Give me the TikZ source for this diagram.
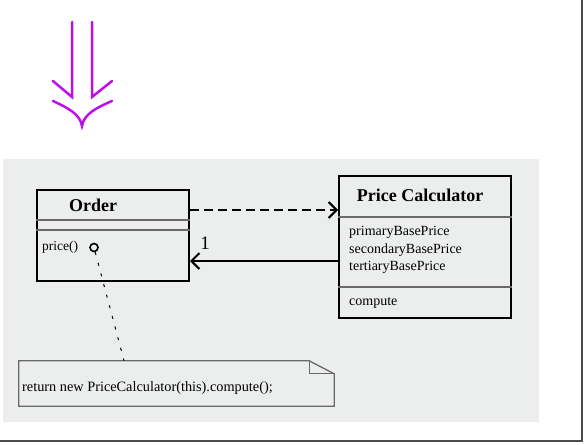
\documentclass[tikz,border=0pt]{standalone}
\usepackage{fontspec}
\setmainfont{Liberation Serif}
\usepackage{tikz}
\usetikzlibrary{arrows.meta}

\definecolor{panelgray}{RGB}{236,237,237}
\definecolor{implypurple}{RGB}{188,16,232}
\definecolor{rulegray}{RGB}{105,105,105}

\tikzset{
  classbox/.style = {draw, line width=2pt, fill=panelgray, inner sep=0pt},
  classname/.style = {font=\fontsize{18}{22}\selectfont\bfseries},
  member/.style = {font=\fontsize{14}{17.5}\selectfont, align=left, anchor=west, inner sep=0pt},
  sepline/.style = {rulegray, line width=1.3pt},
  openhead/.style = {-{Straight Barb[length=8pt,width=16pt,line width=2pt]}}
}

\begin{document}
\begin{tikzpicture}[x=1pt,y=-1pt]
\useasboundingbox (0,0) rectangle (585,444);
\draw [line width=2pt, black!70] (582,0) -- (582,441) -- (0,441);
\fill [panelgray] (3,159) rectangle (539,422);

% refactoring arrow
\draw [implypurple, line width=2.5pt, line cap=round] (72,22) -- (72,97) -- (53,81);
\draw [implypurple, line width=2.5pt, line cap=round] (92,22) -- (92,97) -- (112,81);
\draw [implypurple, line width=2.5pt, line cap=round]
  (53,101) .. controls (68,108) and (80,114) .. (82,126)
  .. controls (84,114) and (96,108) .. (112,101);

% Order
\node [classbox, minimum width=152pt, minimum height=91pt] (order) at (113,235.5) {};
\node [classname] (ordername) at (93,205) {Order};
\draw [sepline] ([yshift=15.5pt]order.west) -- ([yshift=15.5pt]order.east);
\draw [sepline] ([yshift=5.5pt]order.west) -- ([yshift=5.5pt]order.east);
\node [member, font=\fontsize{13.5}{16}\selectfont] (price) at (42,247) {price()};
\node [circle, draw, line width=1.6pt, inner sep=0pt, minimum size=8pt] (hook) at (94,247.5) {};

% Price Calculator
\node [classbox, minimum width=172pt, minimum height=142pt] (calc) at (425,247) {};
\node [classname] (calcname) at (420,195) {Price Calculator};
\draw [sepline] ([yshift=30pt]calc.west) -- ([yshift=30pt]calc.east);
\draw [sepline] ([yshift=-40pt]calc.west) -- ([yshift=-40pt]calc.east);
\node [member] (fields) at (349,250) {primaryBasePrice\\secondaryBasePrice\\tertiaryBasePrice};
\node [member] (compute) at (349,303) {compute};

% associations
\draw [openhead, line width=2pt, dash pattern=on 9pt off 5pt]
  ([yshift=25.5pt]order.east) -- ([yshift=37pt]calc.west);
\draw [openhead, line width=2pt] ([yshift=-14pt]calc.west) -- ([yshift=-25.5pt]order.east);
\node [font=\fontsize{19}{22}\selectfont] (mult) at (205,243) {1};

% note
\node [minimum width=315pt, minimum height=45pt, inner sep=0pt] (note) at (176.5,383.5) {};
\draw [rulegray, line width=1.3pt, fill=panelgray] (note.south west) -- (note.north west)
  -- ([xshift=-25pt]note.north east) -- ([yshift=-13pt]note.north east)
  -- (note.south east) -- cycle;
\draw [rulegray, line width=1.3pt] ([xshift=-25pt]note.north east)
  -- ([xshift=-25pt,yshift=-13pt]note.north east) -- ([yshift=-13pt]note.north east);
\node [member, font=\fontsize{14.3}{17}\selectfont] (body) at (22,388) {return new PriceCalculator(this).compute();};
\draw [line width=1pt, dash pattern=on 3pt off 8pt] (hook) -- ([xshift=-52.5pt]note.north);
\end{tikzpicture}
\end{document}
